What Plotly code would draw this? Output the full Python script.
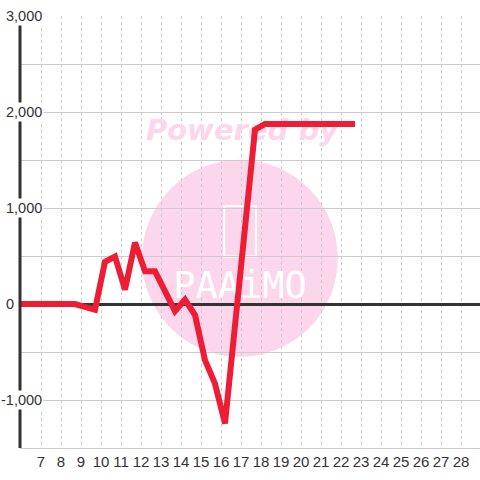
import plotly.graph_objects as go

# ---- data ----
x_values = [5.7, 6.2, 6.7, 7.2, 7.7, 8.2, 8.7, 9.7, 10.2, 10.7, 11.2, 11.7,
            12.2, 12.7, 13.7, 14.2, 14.7, 15.2, 15.7, 16.2, 17.7, 18.2, 18.7,
            19.2, 19.7, 20.2, 20.7, 21.2, 21.7, 22.2, 22.7]
y_values = [0, 0, 0, 0, 0, 0, 0, -60, 440, 495, 150, 640,
            340, 340, -75, 45, -115, -585, -830, -1245, 1815, 1875, 1875,
            1875, 1875, 1875, 1875, 1875, 1875, 1875, 1875]

x_ticks = list(range(7, 29))
x_tick_labels = [str(v) for v in x_ticks]
y_label_vals = [-1000, 0, 1000, 2000, 3000]
y_label_text = ["-1,000", "0", "1,000", "2,000", "3,000"]

FONT = "Liberation Sans, Arial, sans-serif"
PINK = "#fcd6eb"

fig = go.Figure()
# watermark texts (drawn before the data line so the line sits on top)
fig.add_trace(go.Scatter(
    x=[17.05], y=[1781], mode="text", text=["Powered by"],
    textposition="middle center", hoverinfo="skip", showlegend=False,
    textfont=dict(family="DejaVu Sans, sans-serif", size=29, color=PINK,
                  weight="bold", style="italic"),
))
fig.add_trace(go.Scatter(
    x=[16.95], y=[156], mode="text", text=["PAAiMO"],
    textposition="middle center", hoverinfo="skip", showlegend=False,
    textfont=dict(family="DejaVu Sans Mono, monospace", size=37, color="white"),
))
fig.add_trace(go.Scatter(
    x=x_values, y=y_values, mode="lines",
    line=dict(color="#ee1d36", width=6),
    hoverinfo="skip", showlegend=False,
))

# watermark circle + logo frame
fig.add_shape(type="circle", xref="paper", yref="paper",
              x0=0.265, x1=0.691, y0=0.211, y1=0.667,
              fillcolor=PINK, line=dict(width=0), layer="below")
fig.add_shape(type="rect", xref="paper", yref="paper",
              x0=0.444, x1=0.513, y0=0.443, y1=0.560,
              fillcolor="rgba(0,0,0,0)", line=dict(color="white", width=2),
              layer="below")

# y labels with white background
for v, t in zip(y_label_vals, y_label_text):
    shift = -4 if v == 0 else 24
    fig.add_annotation(text=t, xref="paper", yref="y", x=0, y=v,
                       xanchor="right", yanchor="middle", xshift=shift,
                       showarrow=False, bgcolor="white", borderpad=1,
                       font=dict(family=FONT, size=14.5, color="#333333"))

fig.update_layout(
    width=480, height=480,
    margin=dict(l=20, r=0, t=16, b=32, autoexpand=False),
    paper_bgcolor="white", plot_bgcolor="white",
    font=dict(family=FONT, size=15, color="#333333"),
    xaxis=dict(range=[5.95, 28.95], tickvals=x_ticks, ticktext=x_tick_labels,
               showgrid=True, gridcolor="#cccccc", gridwidth=1,
               griddash="3px,3px", zeroline=False,
               showline=True, linecolor="#cccccc", linewidth=1,
               ticks="", tickfont=dict(family=FONT, size=15, color="#333333")),
    yaxis=dict(range=[-1500, 3000], dtick=500, tick0=0,
               showgrid=True, gridcolor="#cccccc", gridwidth=1,
               showticklabels=False, ticks="",
               zeroline=True, zerolinecolor="#333333", zerolinewidth=3),
)
# left axis line
fig.add_shape(type="line", xref="paper", yref="paper", x0=0, x1=0, y0=0, y1=1,
              line=dict(color="#333333", width=3), layer="above")

fig.write_html("out.html", config={"displayModeBar": False},
               post_script="document.body.style.margin='0';document.body.style.overflow='hidden';")
